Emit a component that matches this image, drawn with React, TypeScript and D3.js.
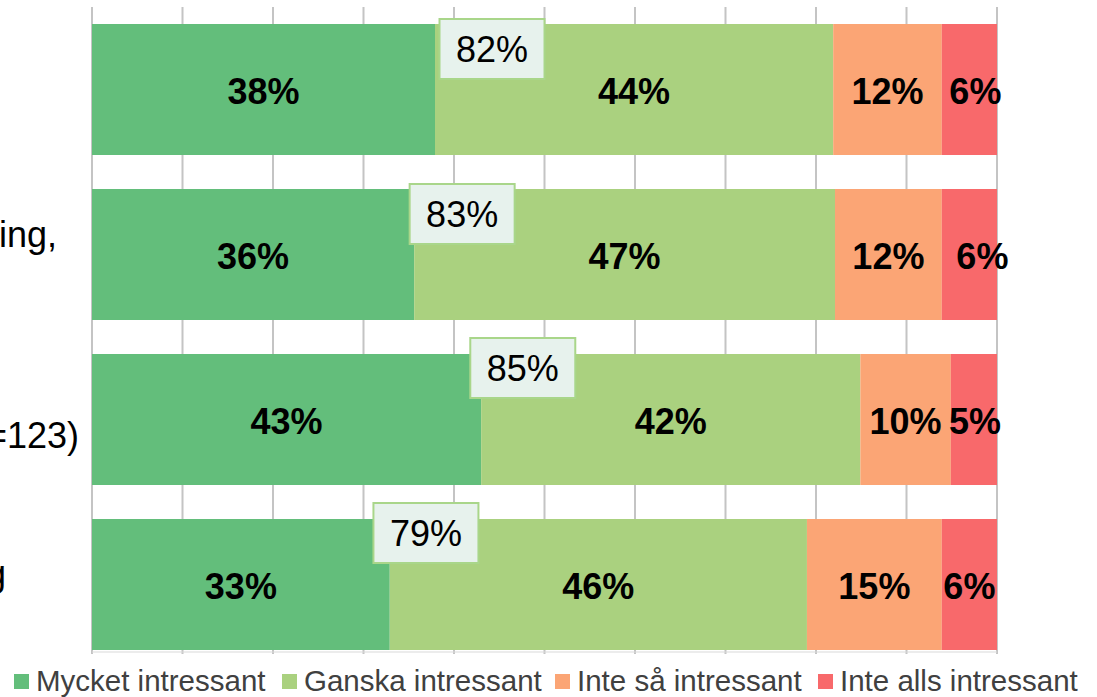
import React from "react";
import * as d3 from "d3";

// ---- data (percent) ----
const categories = ["Grupp 1", "Grupp 2", "Grupp 3", "Grupp 4"];
const categoryTails = ["", "ing,", "=123)", "g"]; // visible (cropped) parts of the axis labels
const seriesNames = ["Mycket intressant", "Ganska intressant", "Inte så intressant", "Inte alls intressant"];
const mycket = [37.9, 35.6, 43.0, 32.9];
const ganska = [44.0, 46.5, 41.9, 46.1];
const inteSa = [12.0, 11.8, 10.0, 14.9];
const inteAlls = [6.1, 6.1, 5.1, 6.1];
const totals = [82, 83, 85, 79];
const totalLabelAt = [44.2, 40.9, 47.6, 36.9]; // where the total callout sits, on the % axis
const xTicks = [0, 10, 20, 30, 40, 50, 60, 70, 80, 90, 100];

const colors = ["#63BE7B", "#AAD17F", "#FBA575", "#F8696B"];
const FONT = "'Liberation Sans', Arial, sans-serif";

export default function App() {
  const W = 1097, H = 697;
  const x = d3.scaleLinear().domain([0, 100]).range([92, 997]);
  const y = d3.scaleBand<number>().domain(d3.range(categories.length)).range([7, 667])
    .paddingInner(34 / 165).paddingOuter(17 / 165);
  const series = [mycket, ganska, inteSa, inteAlls];
  const rows = categories.map((c, i) => ({ c, vals: series.map(s => s[i]) }));
  const stack = d3.stack<any>().keys(["0", "1", "2", "3"]).value((d, k) => d.vals[+k]);
  const stacked = stack(rows);
  const lastLabelDx = [6, 13, 1, 0];
  const boxDy = [-40.5, -40.5, -51.5, -51.5];
  const tailPos = [
    { x: 0, dy: 0 },
    { x: 57, dy: -8 },
    { x: 79, dy: 28.5 },
    { x: 6, dy: 1.5 },
  ];
  const legendX = [14, 282, 555, 818];

  return (
    <svg width={W} height={H} style={{ position: "absolute", left: 0, top: 0, background: "#fff" }} fontFamily={FONT}>
      {/* gridlines */}
      {xTicks.map(t => (
        <line key={t} x1={x(t)} x2={x(t)} y1={7} y2={654} stroke="#C4C4C4" strokeWidth={2} />
      ))}
      <line x1={x(0)} x2={x(100)} y1={652} y2={652} stroke="#D9D9D9" strokeWidth={1} />
      {/* bars */}
      {stacked.map((layer, si) =>
        layer.map((d, i) => (
          <rect key={`${si}-${i}`} x={x(d[0])} width={x(d[1]) - x(d[0])} y={y(i)!} height={y.bandwidth()} fill={colors[si]} />
        ))
      )}
      {/* segment labels */}
      {stacked.map((layer, si) =>
        layer.map((d, i) => {
          const cx = (x(d[0]) + x(d[1])) / 2 + (si === 3 ? lastLabelDx[i] : 0);
          const cy = y(i)! + y.bandwidth() / 2;
          return (
            <text key={`l${si}-${i}`} x={cx} y={cy + 14.4} textAnchor="middle" fontWeight="bold" fontSize={36} fill="#000">
              {Math.round(series[si][i])}%
            </text>
          );
        })
      )}
      {/* total callouts */}
      {totals.map((t, i) => {
        const cx = x(totalLabelAt[i]);
        const cy = y(i)! + y.bandwidth() / 2 + boxDy[i];
        return (
          <g key={`t${i}`}>
            <rect x={cx - 52.5} y={cy - 30} width={105} height={60} fill="#E7F2ED" stroke="#A9D68A" strokeWidth={2} />
            <text x={cx} y={cy + 13} textAnchor="middle" fontSize={36} fill="#000">{t}%</text>
          </g>
        );
      })}
      {/* category labels (cropped) */}
      {categoryTails.map((s, i) => (
        <text key={`c${i}`} x={tailPos[i].x} y={y(i)! + y.bandwidth() / 2 + tailPos[i].dy} textAnchor="end" fontSize={36} fill="#000">{s}</text>
      ))}
      {/* legend */}
      {seriesNames.map((n, i) => (
        <g key={`g${i}`}>
          <rect x={legendX[i]} y={674} width={15} height={15} fill={colors[i]} />
          <text x={legendX[i] + 22} y={691} fontSize={29.5} fill="#404040">{n}</text>
        </g>
      ))}
    </svg>
  );
}
